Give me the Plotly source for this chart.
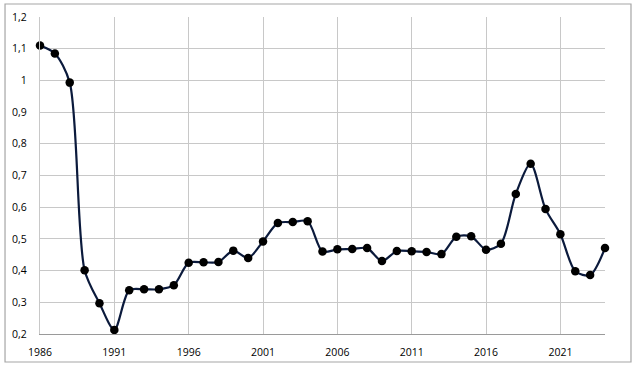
import plotly.graph_objects as go

years = list(range(1986, 2025))
values = [1.11, 1.085, 0.993, 0.401, 0.297, 0.213, 0.338, 0.341, 0.341, 0.354,
          0.425, 0.426, 0.427, 0.463, 0.44, 0.492, 0.55, 0.553, 0.556, 0.46,
          0.467, 0.468, 0.471, 0.43, 0.462, 0.461, 0.459, 0.452, 0.507, 0.508,
          0.466, 0.485, 0.642, 0.737, 0.594, 0.515, 0.398, 0.386, 0.471]

x_ticks = [1986, 1991, 1996, 2001, 2006, 2011, 2016, 2021]
y_ticks = [0.2, 0.3, 0.4, 0.5, 0.6, 0.7, 0.8, 0.9, 1.0, 1.1, 1.2]
y_labels = ["0,2", "0,3", "0,4", "0,5", "0,6", "0,7", "0,8", "0,9", "1", "1,1", "1,2"]

fig = go.Figure()
fig.add_trace(go.Scatter(
    x=years, y=values, mode="lines+markers",
    line=dict(color="#0b1a3c", width=2.2, shape="spline", smoothing=0.8),
    marker=dict(color="#000000", size=8.5),
    cliponaxis=False,
))

fig.update_layout(
    width=637, height=368,
    margin=dict(l=40, r=32, t=17, b=34, autoexpand=False),
    paper_bgcolor="white", plot_bgcolor="white",
    showlegend=False,
    font=dict(family="Open Sans, Liberation Sans, sans-serif", size=10.5, color="#000000"),
    xaxis=dict(
        range=[1986, 2024], tickvals=x_ticks, ticktext=[str(t) for t in x_ticks],
        showgrid=True, gridcolor="#c8c8c8", gridwidth=1.3,
        showline=True, linecolor="#9a9a9a", linewidth=1.3,
        zeroline=False, ticks="", ticklabelstandoff=8, automargin=False,
    ),
    yaxis=dict(
        range=[0.2, 1.2], tickvals=y_ticks, ticktext=y_labels,
        showgrid=True, gridcolor="#c8c8c8", gridwidth=1.3,
        showline=True, linecolor="#c8c8c8", linewidth=1.3,
        zeroline=False, ticks="", ticklabelstandoff=10, automargin=False,
    ),
    shapes=[dict(type="rect", xref="paper", yref="paper",
                 x0=-0.0619, x1=1.046, y0=-0.0883, y1=1.041,
                 line=dict(color="#a6a6a6", width=1.2), layer="below")],
)

fig.write_html("out.html", config={"displayModeBar": False},
               post_script="document.body.style.margin='0';document.body.style.padding='0';")
